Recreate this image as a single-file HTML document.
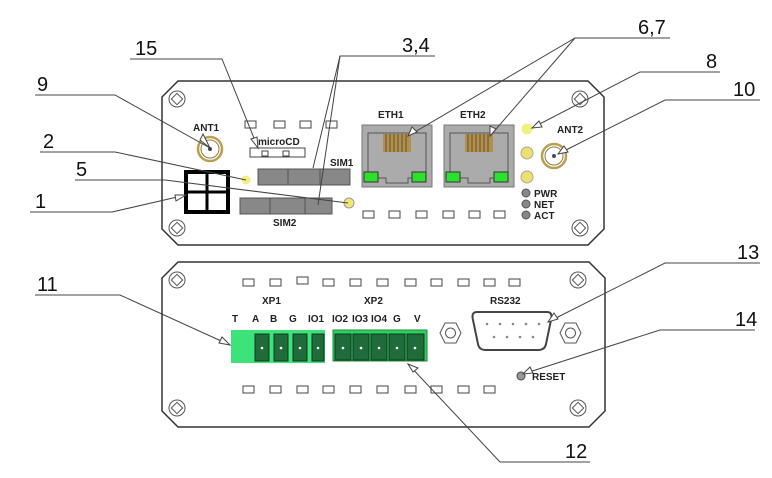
<!DOCTYPE html>
<html><head><meta charset="utf-8"><style>
html,body{margin:0;padding:0;background:#fff;width:772px;height:478px;overflow:hidden}
svg{display:block}
text{font-family:"Liberation Sans",sans-serif;font-weight:bold;fill:#222}
.cl{font-family:"Liberation Sans",sans-serif;font-weight:normal;font-size:20px;fill:#111}
</style></head><body>
<svg width="772" height="478" viewBox="0 0 772 478" xmlns="http://www.w3.org/2000/svg">
<defs>
<g id="screw"><circle r="8" fill="#fff" stroke="#555" stroke-width="1"/><rect x="-4" y="-4" width="8" height="8" transform="rotate(45)" fill="none" stroke="#555"/></g>
<g id="sr"><rect width="11" height="7" fill="#fff" stroke="#444" stroke-width="1"/></g>
</defs>
<!-- top panel -->
<polygon points="178,81 588,81 604,97 604,229 588,245 178,245 162,229 162,97" fill="#fff" stroke="#333" stroke-width="1.5"/>
<use href="#screw" x="177" y="99"/><use href="#screw" x="580" y="99"/>
<use href="#screw" x="177" y="228"/><use href="#screw" x="580" y="228"/>
<text x="193" y="131" font-size="10">ANT1</text>
<circle cx="210" cy="149" r="12" fill="#fff" stroke="#b9a050" stroke-width="2.5"/>
<circle cx="210" cy="149" r="9" fill="none" stroke="#8a7a40" stroke-width="1"/>
<circle cx="210" cy="149" r="2" fill="#444"/>
<use href="#sr" x="245" y="121"/><use href="#sr" x="274" y="121"/><use href="#sr" x="300" y="121"/><use href="#sr" x="326" y="121"/>
<text x="258" y="145" font-size="10">microCD</text>
<rect x="250" y="148" width="55" height="9" fill="#fff" stroke="#444"/>
<rect x="262" y="151" width="6" height="5" fill="none" stroke="#444"/><rect x="283" y="151" width="6" height="5" fill="none" stroke="#444"/>
<text x="330" y="166" font-size="10">SIM1</text>
<rect x="258" y="169" width="92" height="16" fill="#888" stroke="#555"/>
<line x1="288" y1="169" x2="288" y2="185" stroke="#555"/><line x1="320" y1="169" x2="320" y2="185" stroke="#555"/>
<rect x="240" y="198" width="92" height="16" fill="#888" stroke="#555"/>
<line x1="270" y1="198" x2="270" y2="214" stroke="#555"/><line x1="305" y1="198" x2="305" y2="214" stroke="#555"/>
<text x="273" y="226" font-size="10">SIM2</text>
<circle cx="246" cy="180" r="4.5" fill="#f3ef80"/>
<circle cx="349" cy="203" r="5" fill="#f0e870" stroke="#999"/>
<rect x="186" y="172" width="42" height="40" fill="#fff" stroke="#000" stroke-width="4"/>
<line x1="207" y1="172" x2="207" y2="212" stroke="#000" stroke-width="3"/>
<line x1="186" y1="192" x2="228" y2="192" stroke="#000" stroke-width="3"/>
<text x="378" y="118" font-size="10">ETH1</text>
<text x="460" y="118" font-size="10">ETH2</text>
<g id="eth">
<rect x="362" y="125" width="70" height="62" fill="#ababab" stroke="#777"/>
<path d="M368 133 H426 V178 H408 V183 H386 V178 H368 Z" fill="none" stroke="#555"/>
<rect x="383" y="134" width="28" height="18" fill="#b09050"/>
<g stroke="#6a5020" stroke-width="1"><line x1="386" y1="134" x2="386" y2="152"/><line x1="390" y1="134" x2="390" y2="152"/><line x1="394" y1="134" x2="394" y2="152"/><line x1="398" y1="134" x2="398" y2="152"/><line x1="402" y1="134" x2="402" y2="152"/><line x1="406" y1="134" x2="406" y2="152"/></g>
<rect x="364" y="172" width="14" height="10" fill="#2ee02e" stroke="#333"/>
<rect x="412" y="172" width="14" height="10" fill="#2ee02e" stroke="#333"/>
</g>
<use href="#eth" x="82" y="0"/>
<circle cx="527" cy="129" r="5.5" fill="#f3ef80"/>
<circle cx="527" cy="153" r="6" fill="#ece070" stroke="#aa9"/>
<circle cx="527" cy="177" r="6" fill="#ece070" stroke="#aa9"/>
<text x="557" y="133" font-size="10">ANT2</text>
<circle cx="554" cy="156" r="12" fill="#fff" stroke="#b9a050" stroke-width="2.5"/>
<circle cx="554" cy="156" r="9" fill="none" stroke="#8a7a40"/>
<circle cx="554" cy="156" r="2" fill="#447"/>
<g fill="#888" stroke="#555"><circle cx="526" cy="193" r="4"/><circle cx="526" cy="204" r="4"/><circle cx="526" cy="215" r="4"/></g>
<text x="534" y="197" font-size="10">PWR</text><text x="534" y="208" font-size="10">NET</text><text x="534" y="219" font-size="10">ACT</text>
<use href="#sr" x="363" y="211"/><use href="#sr" x="389" y="211"/><use href="#sr" x="416" y="211"/><use href="#sr" x="443" y="211"/><use href="#sr" x="469" y="211"/><use href="#sr" x="494" y="211"/>
<!-- bottom panel -->
<polygon points="178,262 589,262 605,278 605,411 589,427 178,427 162,411 162,278" fill="#fff" stroke="#333" stroke-width="1.5"/>
<use href="#screw" x="177" y="280"/><use href="#screw" x="578" y="280"/>
<use href="#screw" x="177" y="408"/><use href="#screw" x="578" y="408"/>
<g>
<use href="#sr" x="243" y="279"/><use href="#sr" x="270" y="279"/><use href="#sr" x="297" y="277"/><use href="#sr" x="323" y="279"/><use href="#sr" x="350" y="279"/><use href="#sr" x="377" y="279"/><use href="#sr" x="405" y="279"/><use href="#sr" x="431" y="279"/><use href="#sr" x="458" y="279"/><use href="#sr" x="484" y="279"/><use href="#sr" x="509" y="279"/>
<use href="#sr" x="243" y="386"/><use href="#sr" x="270" y="386"/><use href="#sr" x="297" y="386"/><use href="#sr" x="323" y="386"/><use href="#sr" x="350" y="386"/><use href="#sr" x="377" y="386"/><use href="#sr" x="405" y="386"/><use href="#sr" x="431" y="386"/><use href="#sr" x="458" y="386"/><use href="#sr" x="484" y="386"/>
</g>
<text x="262" y="304" font-size="10">XP1</text>
<text x="364" y="304" font-size="10">XP2</text>
<text x="490" y="304" font-size="10">RS232</text>
<g font-size="10"><text x="232" y="322">T</text><text x="252" y="322">A</text><text x="270" y="322">B</text><text x="289" y="322">G</text><text x="308" y="322">IO1</text><text x="332" y="322">IO2</text><text x="352" y="322">IO3</text><text x="371" y="322">IO4</text><text x="393" y="322">G</text><text x="414" y="322">V</text></g>
<rect x="231" y="330" width="94" height="33" fill="#3ee27a"/>
<rect x="333" y="330" width="94" height="31" fill="#2fcf60" stroke="#1a8a3a"/>
<g fill="#1f6b3a" stroke="#0d3a1e">
<rect x="255" y="334" width="14" height="27"/><rect x="274" y="334" width="14" height="27"/><rect x="293" y="334" width="14" height="27"/><rect x="312" y="334" width="12" height="27"/>
<rect x="335" y="334" width="16" height="26"/><rect x="353" y="334" width="16" height="26"/><rect x="371" y="334" width="16" height="26"/><rect x="389" y="334" width="16" height="26"/><rect x="407" y="334" width="17" height="26"/>
</g>
<g fill="#fff"><circle cx="262" cy="348" r="1.3"/><circle cx="281" cy="348" r="1.3"/><circle cx="300" cy="348" r="1.3"/><circle cx="318" cy="348" r="1.3"/><circle cx="343" cy="348" r="1.3"/><circle cx="361" cy="348" r="1.3"/><circle cx="379" cy="348" r="1.3"/><circle cx="397" cy="348" r="1.3"/><circle cx="415" cy="348" r="1.3"/></g>
<polygon points="440,333 445,323 456,323 461,333 456,343 445,343" fill="#fff" stroke="#555"/><circle cx="450.5" cy="333" r="5" fill="none" stroke="#555"/>
<polygon points="560,333 565,323 576,323 581,333 576,343 565,343" fill="#fff" stroke="#555"/><circle cx="570.5" cy="333" r="5" fill="none" stroke="#555"/>
<path d="M477 312 H547 Q553 312 551 320 L546 344 Q545 350 538 350 H486 Q479 350 478 344 L473 320 Q471 312 477 312 Z" fill="#fff" stroke="#444" stroke-width="2"/>
<g fill="#888"><circle cx="487" cy="324" r="1.3"/><circle cx="500" cy="324" r="1.3"/><circle cx="513" cy="324" r="1.3"/><circle cx="526" cy="324" r="1.3"/><circle cx="539" cy="324" r="1.3"/><circle cx="494" cy="337" r="1.3"/><circle cx="507" cy="337" r="1.3"/><circle cx="520" cy="337" r="1.3"/><circle cx="533" cy="337" r="1.3"/></g>
<circle cx="521" cy="376" r="4" fill="#999" stroke="#444"/>
<text x="532" y="380" font-size="10">RESET</text>
<!-- callouts -->
<g stroke="#444" stroke-width="1" fill="none">
<polyline points="130,59 222,59 258,148"/>
<polyline points="435,56 340,56 313,168"/><line x1="340" y1="56" x2="318" y2="205"/>
<polyline points="670,38 575,38 408,136"/><line x1="575" y1="38" x2="490" y2="136"/>
<polyline points="720,72 640,72 532,128"/>
<polyline points="760,100 665,100 558,154"/>
<polyline points="35,95 115,95 210,148"/>
<polyline points="40,152 115,152 246,180"/>
<polyline points="75,180 165,180 348,203"/>
<polyline points="30,212 112,212 186,195"/>
<polyline points="35,295 120,295 230,345"/>
<polyline points="760,263 665,263 548,322"/>
<polyline points="755,330 660,330 523,374"/>
<polyline points="590,462 500,462 408,364"/>
</g>
<g fill="#fff" stroke="#444" stroke-width="1">
<polygon points="258,148 251,139 257,137"/>
<polygon points="408,136 412,127 417,132"/>
<polygon points="490,136 490,126 496,129"/>
<polygon points="532,128 539,121 542,127"/>
<polygon points="558,154 564,146 568,152"/>
<polygon points="210,148 200,140 203,134"/>
<polygon points="230,345 219,343 222,337"/>
<polygon points="548,322 554,313 558,319"/>
<polygon points="523,374 530,367 533,373"/>
<polygon points="408,364 418,368 413,372"/>
<polygon points="186,195 176,201 175,195"/>
</g>
<text class="cl" x="135" y="55">15</text>
<text class="cl" x="402" y="52">3,4</text>
<text class="cl" x="638" y="34">6,7</text>
<text class="cl" x="706" y="68">8</text>
<text class="cl" x="733" y="96">10</text>
<text class="cl" x="37" y="91">9</text>
<text class="cl" x="43" y="148">2</text>
<text class="cl" x="76" y="176">5</text>
<text class="cl" x="35" y="208">1</text>
<text class="cl" x="37" y="291">11</text>
<text class="cl" x="737" y="259">13</text>
<text class="cl" x="735" y="326">14</text>
<text class="cl" x="565" y="458">12</text>
</svg>
</body></html>
